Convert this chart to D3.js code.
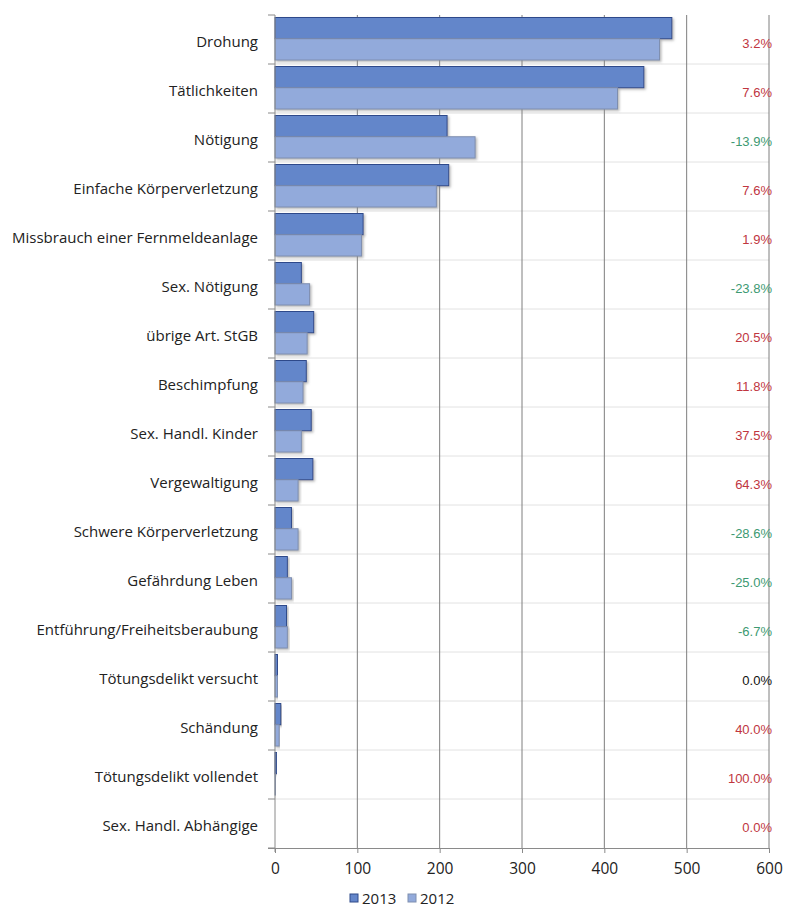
<!DOCTYPE html>
<head>
<meta charset="utf-8">
<style type="text/css">
body { margin: 0; background: #fff; }
.cat { font-family: "Open Sans", sans-serif; font-size: 15px; fill: #222; }
.tick text { font-family: "Open Sans", sans-serif; font-size: 15.5px; fill: #222; }
.pct { font-family: "Liberation Sans", Arial, sans-serif; font-size: 13px; }
.legend { font-family: "Open Sans", sans-serif; font-size: 15px; fill: #222; }
</style>
</head>
<body>
<script src="https://cdnjs.cloudflare.com/ajax/libs/d3/7.8.5/d3.min.js"></script>
<script type="text/javascript">
  // Data
  var categories = ['Drohung', 'Tätlichkeiten', 'Nötigung', 'Einfache Körperverletzung',
    'Missbrauch einer Fernmeldeanlage', 'Sex. Nötigung', 'übrige Art. StGB', 'Beschimpfung',
    'Sex. Handl. Kinder', 'Vergewaltigung', 'Schwere Körperverletzung', 'Gefährdung Leben',
    'Entführung/Freiheitsberaubung', 'Tötungsdelikt versucht', 'Schändung',
    'Tötungsdelikt vollendet', 'Sex. Handl. Abhängige'];
  var values2013 = [482, 448, 209, 211, 107, 32, 47, 38, 44, 46, 20, 15, 14, 3, 7, 2, 0];
  var values2012 = [467, 416, 243, 196, 105, 42, 39, 34, 32, 28, 28, 20, 15, 3, 5, 1, 0];
  var changeLabels = ['3.2%', '7.6%', '-13.9%', '7.6%', '1.9%', '-23.8%', '20.5%', '11.8%',
    '37.5%', '64.3%', '-28.6%', '-25.0%', '-6.7%', '0.0%', '40.0%', '100.0%', '0.0%'];
  var changeColors = ['up', 'up', 'down', 'up', 'up', 'down', 'up', 'up',
    'up', 'up', 'down', 'down', 'down', 'same', 'up', 'up', 'up'];
  var xTicks = [0, 100, 200, 300, 400, 500, 600];
  var seriesNames = ['2013', '2012'];

  var colorMap = { up: '#c0363f', down: '#3d9a72', same: '#111' };
  var fills = { '2013': '#6486ca', '2012': '#92aadb' };
  var strokes = { '2013': '#2f4a8a', '2012': '#7f8fb0' };

  var svg = d3.select('body').append('svg')
          .attr('width', 789)
          .attr('height', 910);

  var defs = svg.append('defs');
  var f = defs.append('filter').attr('id', 'shadow')
          .attr('x', '-5%').attr('y', '-20%').attr('width', '120%').attr('height', '160%');
  f.append('feDropShadow').attr('dx', 1.5).attr('dy', 1.5).attr('stdDeviation', 1)
          .attr('flood-color', '#888').attr('flood-opacity', 0.6);

  var x = d3.scaleLinear().domain([0, 600]).range([275, 769]);
  var y = d3.scaleBand().domain(categories).range([15, 848]);
  var sub = d3.scaleBand().domain(seriesNames).range([2.5, 45]);

  // horizontal light lines at band edges
  var edges = categories.map(function(c){ return y(c); }).concat([848]);
  svg.selectAll('.hgrid').data(edges.slice(1, -1)).enter().append('line')
          .attr('x1', 275).attr('x2', 769)
          .attr('y1', function(d){ return d; }).attr('y2', function(d){ return d; })
          .attr('stroke', '#e2e2e2').attr('stroke-width', 1);

  // vertical grid lines
  svg.selectAll('.vgrid').data(xTicks.slice(1)).enter().append('line')
          .attr('x1', function(d){ return x(d); }).attr('x2', function(d){ return x(d); })
          .attr('y1', 15).attr('y2', 848)
          .attr('stroke', '#7e7e7e').attr('stroke-width', 1);

  // y axis ticks
  svg.selectAll('.ytick').data(edges).enter().append('line')
          .attr('x1', 268).attr('x2', 275)
          .attr('y1', function(d){ return d; }).attr('y2', function(d){ return d; })
          .attr('stroke', '#8a8a8a');

  // bars
  seriesNames.forEach(function(s){
    var vals = s === '2013' ? values2013 : values2012;
    svg.selectAll('.bar' + s).data(vals).enter().append('rect')
            .attr('class', 'bar' + s)
            .attr('x', x(0))
            .attr('y', function(d, i){ return y(categories[i]) + sub(s); })
            .attr('width', function(d){ return Math.max(0, x(d) - x(0)); })
            .attr('height', sub.bandwidth())
            .attr('fill', fills[s])
            .attr('stroke', strokes[s])
            .attr('stroke-width', function(d){ return d > 0 ? 1 : 0; })
            .attr('filter', 'url(#shadow)');
  });

  // y axis line
  svg.append('line').attr('x1', 275).attr('x2', 275).attr('y1', 15).attr('y2', 852)
          .attr('stroke', '#8a8a8a');

  // x axis
  var xAxis = d3.axisBottom(x).tickValues(xTicks).tickSize(5).tickPadding(10);
  var gx = svg.append('g').attr('transform', 'translate(0,848)').call(xAxis);
  gx.select('.domain').attr('stroke', '#8a8a8a').attr('d', 'M268,0.5H769');
  gx.selectAll('.tick line').attr('stroke', '#8a8a8a');

  // category labels
  svg.selectAll('.cat').data(categories).enter().append('text')
          .attr('class', 'cat')
          .attr('x', 258)
          .attr('y', function(d){ return y(d) + y.bandwidth() / 2 + 7; })
          .attr('text-anchor', 'end')
          .text(function(d){ return d; });

  // change labels
  svg.selectAll('.pct').data(changeLabels).enter().append('text')
          .attr('class', 'pct')
          .attr('x', 772)
          .attr('y', function(d, i){ return y(categories[i]) + y.bandwidth() / 2 + 8; })
          .attr('text-anchor', 'end')
          .attr('fill', function(d, i){ return colorMap[changeColors[i]]; })
          .text(function(d){ return d; });

  // legend
  var lg = svg.append('g').selectAll('g').data(seriesNames).enter().append('g')
          .attr('transform', function(d, i){ return 'translate(' + (350 + i * 58) + ',894)'; });
  lg.append('rect').attr('width', 8).attr('height', 8)
          .attr('fill', function(d){ return fills[d]; })
          .attr('stroke', function(d){ return strokes[d]; });
  lg.append('text').attr('class', 'legend').attr('x', 12).attr('y', 9.5)
          .text(function(d){ return d; });
</script>
</body>
